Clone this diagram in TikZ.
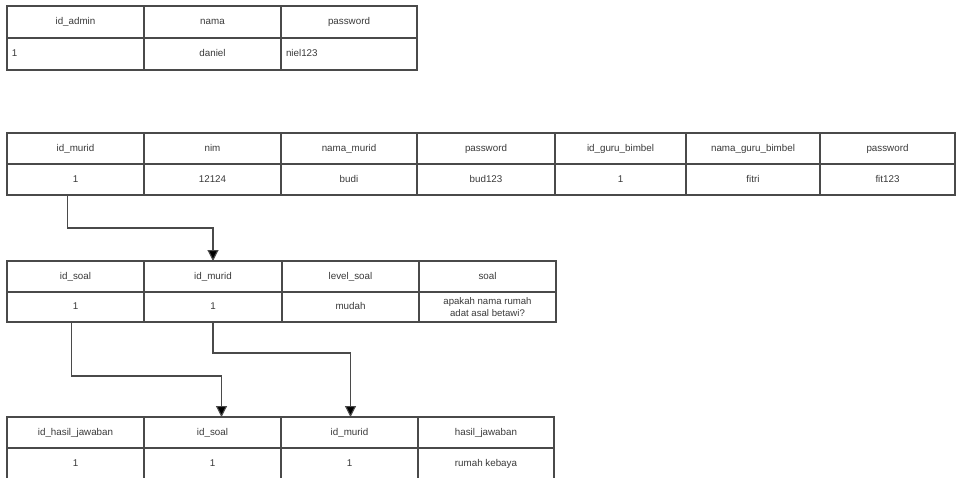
\documentclass[tikz,border=0pt]{standalone}
\usepackage{fontspec}
\setmainfont{Liberation Sans}
\usetikzlibrary{arrows.meta}

\definecolor{gridline}{HTML}{4A4A4A}
\definecolor{celltext}{HTML}{3A3A3A}

% one table cell: [extra options]{name}{x1}{y1}{x2}{y2}{text}
\newcommand{\tcell}[7][]{%
  \node[cellbox, minimum width={(#5-#3)*1pt}, minimum height={(#6-#4)*1pt}, #1]
    (#2) at ({(#3+#5)/2},{(#4+#6)/2}) {#7};}

\tikzset{
  cellbox/.style={draw=gridline, line width=1.1pt, inner sep=0pt, outer sep=0pt,
    text=celltext, font=\fontsize{9.8}{11}\selectfont,
    text height=7pt, text depth=2pt},
  leftcell/.style={text width=#1, align=left},
  smalltext/.style={font=\fontsize{9.6}{11.5}\selectfont, align=center,
    text height=, text depth=},
  conn/.style={draw=gridline, line width=1.1pt,
    -{Triangle[width=11pt,length=11pt,fill=black]}},
}

\begin{document}
\begin{tikzpicture}[x=1pt,y=-1pt]
\clip (0,0) rectangle (956,477);
\fill[white] (0,0) rectangle (956,477);

% admin table
\tcell{a-id}{7}{6}{144}{38}{id\_admin}
\tcell{a-nama}{144}{6}{281}{38}{nama}
\tcell{a-pw}{281}{6}{417}{38}{password}
\tcell[leftcell=127pt]{a-id1}{7}{38}{144}{70}{1}
\tcell{a-nama1}{144}{38}{281}{70}{daniel}
\tcell[leftcell=126pt]{a-pw1}{281}{38}{417}{70}{niel123}

% murid table
\tcell{m-id}{7}{133}{144}{164}{id\_murid}
\tcell{m-nim}{144}{133}{281}{164}{nim}
\tcell{m-nama}{281}{133}{417}{164}{nama\_murid}
\tcell{m-pw}{417}{133}{555}{164}{password}
\tcell{m-guru}{555}{133}{686}{164}{id\_guru\_bimbel}
\tcell{m-nguru}{686}{133}{820}{164}{nama\_guru\_bimbel}
\tcell{m-pw2}{820}{133}{955}{164}{password}
\tcell{m-id1}{7}{164}{144}{195}{1}
\tcell{m-nim1}{144}{164}{281}{195}{12124}
\tcell{m-nama1}{281}{164}{417}{195}{budi}
\tcell{m-pw1}{417}{164}{555}{195}{bud123}
\tcell{m-guru1}{555}{164}{686}{195}{1}
\tcell{m-nguru1}{686}{164}{820}{195}{fitri}
\tcell{m-pw21}{820}{164}{955}{195}{fit123}

% soal table
\tcell{s-id}{7}{261}{144}{292}{id\_soal}
\tcell{s-murid}{144}{261}{282}{292}{id\_murid}
\tcell{s-level}{282}{261}{419}{292}{level\_soal}
\tcell{s-soal}{419}{261}{556}{292}{soal}
\tcell{s-id1}{7}{292}{144}{322}{1}
\tcell{s-murid1}{144}{292}{282}{322}{1}
\tcell{s-level1}{282}{292}{419}{322}{mudah}
\tcell[smalltext]{s-soal1}{419}{292}{556}{322}{apakah nama rumah\\adat asal betawi?}

% hasil jawaban table
\tcell{h-id}{7}{417}{144}{448}{id\_hasil\_jawaban}
\tcell{h-soal}{144}{417}{281}{448}{id\_soal}
\tcell{h-murid}{281}{417}{418}{448}{id\_murid}
\tcell{h-hasil}{418}{417}{554}{448}{hasil\_jawaban}
\tcell{h-id1}{7}{448}{144}{479}{1}
\tcell{h-soal1}{144}{448}{281}{479}{1}
\tcell{h-murid1}{281}{448}{418}{479}{1}
\tcell{h-hasil1}{418}{448}{554}{479}{rumah kebaya}

% foreign-key connectors
\draw[conn] ([xshift=-8pt]m-id1.south) -- ++(0,33) -| (s-murid.north);
\draw[conn] ([xshift=-4pt]s-id1.south) -- ++(0,54) -| ([xshift=9pt]h-soal.north);
\draw[conn] (s-murid1.south) -- ++(0,31) -| ([xshift=1pt]h-murid.north);
\end{tikzpicture}
\end{document}
